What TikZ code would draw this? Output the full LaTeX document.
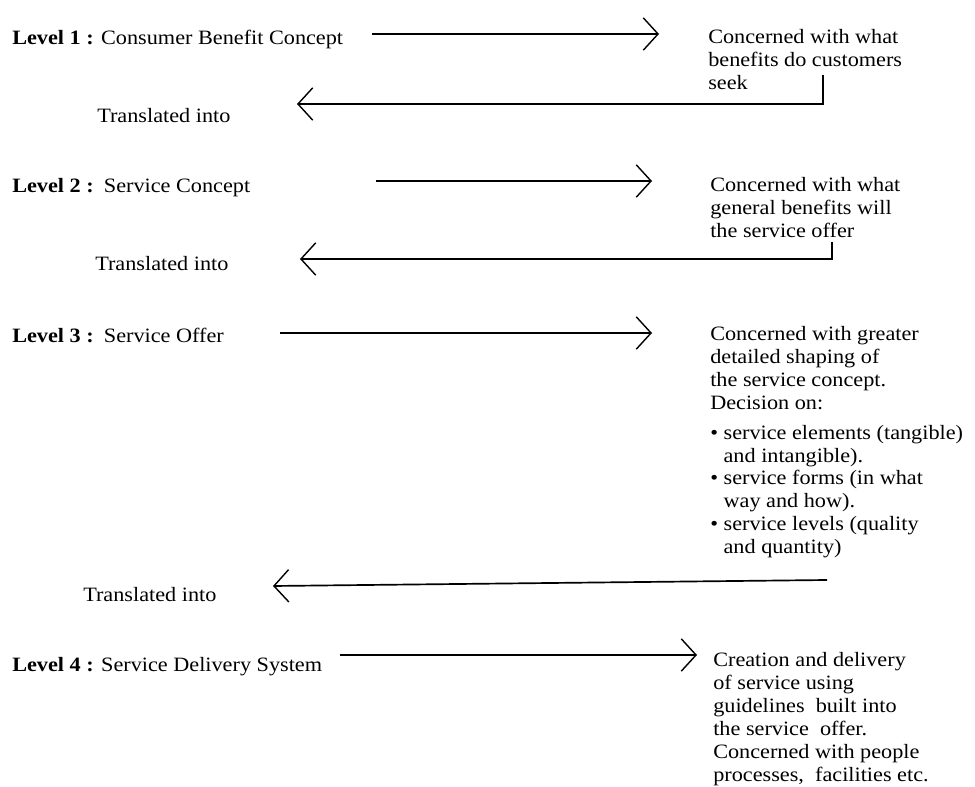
\documentclass[tikz,border=0pt]{standalone}
\usepackage{fontspec}
\setmainfont[FakeStretch=1.09]{Liberation Serif}
\usetikzlibrary{arrows.meta}
\begin{document}
\begin{tikzpicture}
[x=0.025cm,y=-0.025cm,%
  lvlDecorate/.style={anchor=base west,inner sep=0pt,font=\fontsize{14.5}{16.3}\selectfont},%
  descDecorate/.style={anchor=north west,inner sep=0pt,align=left,font=\fontsize{14.5}{16.3}\selectfont},%
  arrowDecorate/.style={line width=1.2pt,-{Straight Barb[length=10.5pt,width=23pt,line width=1pt]}}]
\useasboundingbox (0,0) rectangle (975,787);
%% level labels
\node (lvlA) at (12,45) [lvlDecorate] {\textbf{Level 1 :} Consumer Benefit Concept};
\node (lvlB) at (12,193) [lvlDecorate] {\textbf{Level 2 :}\enspace Service Concept};
\node (lvlC) at (12,343) [lvlDecorate] {\textbf{Level 3 :}\enspace Service Offer};
\node (lvlD) at (12,671) [lvlDecorate] {\textbf{Level 4 :} Service Delivery System};
\node (trA) at (97,123) [lvlDecorate] {Translated into};
\node (trB) at (95,271) [lvlDecorate] {Translated into};
\node (trC) at (83,601) [lvlDecorate] {Translated into};
%% descriptions
\node (descA) at (708,29) [descDecorate] {Concerned with what\\benefits do customers\\seek};
\node (descB) at (710,177) [descDecorate] {Concerned with what\\general benefits will\\the service offer};
\node (descC) at (710,326) [descDecorate] {Concerned with greater\\detailed shaping of\\the service concept.\\Decision on:\\[5pt]
  \textbullet\ service elements (tangible)\\\hphantom{\textbullet\ }and intangible).\\
  \textbullet\ service forms (in what\\\hphantom{\textbullet\ }way and how).\\
  \textbullet\ service levels (quality\\\hphantom{\textbullet\ }and quantity)};
\node (descD) at (713,652) [descDecorate] {Creation and delivery\\of service using\\guidelines\ \ built into\\the service\ \ offer.\\Concerned with people\\processes,\ \ facilities etc.};
%% arrow ends
\coordinate (fwdAs) at (372,34);  \coordinate (fwdAe) at (659,34);
\coordinate (fwdBs) at (376,181); \coordinate (fwdBe) at (652,181);
\coordinate (fwdCs) at (280,333); \coordinate (fwdCe) at (652,333);
\coordinate (fwdDs) at (340,655); \coordinate (fwdDe) at (697,655);
\coordinate (retAs) at (823,75);  \coordinate (retAe) at (297,104);
\coordinate (retBs) at (832,242); \coordinate (retBe) at (300,259);
\coordinate (retCs) at (827,580); \coordinate (retCe) at (273,586);
%% arrows
\draw[arrowDecorate] (fwdAs) -- (fwdAe);
\draw[arrowDecorate] (fwdBs) -- (fwdBe);
\draw[arrowDecorate] (fwdCs) -- (fwdCe);
\draw[arrowDecorate] (fwdDs) -- (fwdDe);
\draw[arrowDecorate] (retAs) |- (retAe);
\draw[arrowDecorate] (retBs) |- (retBe);
\draw[arrowDecorate] (retCs) -- (retCe);
\end{tikzpicture}
\end{document}
